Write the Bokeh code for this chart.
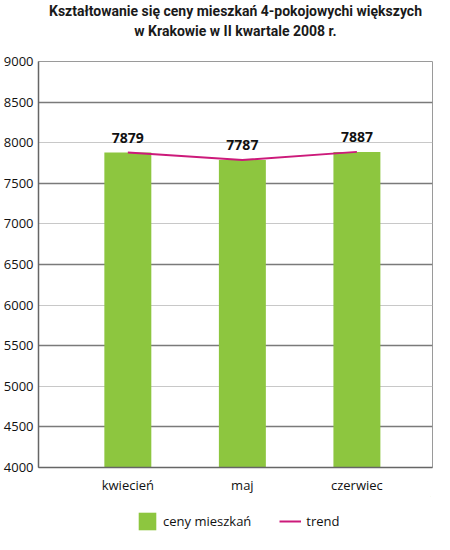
from bokeh.plotting import figure
from bokeh.layouts import column
from bokeh.models import (Range1d, FixedTicker, Grid, Title, Legend, LegendItem, ColumnDataSource)
from bokeh.core.properties import value
from bokeh.embed import file_html
from bokeh.resources import INLINE

months = ["kwiecień", "maj", "czerwiec"]
prices = [7879, 7787, 7887]
trend = [7879, 7787, 7887]
y_ticks = [4000, 4500, 5000, 5500, 6000, 6500, 7000, 7500, 8000, 8500, 9000]
title_lines = ["Kształtowanie się ceny mieszkań 4-pokojowychi większych",
               "w Krakowie w II kwartale 2008 r."]
legend_labels = ["ceny mieszkań", "trend"]

xs = list(range(1, len(months) + 1))
src = ColumnDataSource(dict(x=xs, price=prices, trend=trend,
                            lbl=[str(v) for v in prices]))

FONT = "Open Sans"
TFONT = "Roboto"
GREEN = "#8dc63f"
MAGENTA = "#cc1a7a"

p = figure(frame_width=394, frame_height=406, output_backend="svg", toolbar_location=None,
           title=None, x_range=Range1d(0.22, 3.66), y_range=Range1d(4000, 9000),
           min_border_left=0, min_border_right=2, min_border_top=0, min_border_bottom=0)

p.add_layout(Title(text=" ", text_font_size="17px", standoff=0), "above")
p.add_layout(Title(text=title_lines[1], align="center", text_font=TFONT,
                   text_font_size="14px", text_font_style="bold", text_color="#1a1a1a",
                   standoff=4), "above")
p.add_layout(Title(text=title_lines[0], align="center", text_font=TFONT,
                   text_font_size="14px", text_font_style="bold", text_color="#1a1a1a",
                   standoff=0), "above")

bars = p.vbar(x="x", top="price", bottom=4000, width=0.41, source=src,
              fill_color=GREEN, line_color=None)
tl = p.line(x="x", y="trend", source=src, line_color=MAGENTA, line_width=2)
p.text(x="x", y="price", text="lbl", source=src, text_align="center",
       text_baseline="bottom", y_offset=-10, text_font=value(FONT),
       text_font_style="bold", text_font_size="14px", text_color="#111111")

# grids
p.xgrid.visible = False
p.ygrid.ticker = FixedTicker(ticks=[4000, 5000, 6000, 7000, 8000, 9000])
p.ygrid.grid_line_color = "#c8c8c8"
p.ygrid.grid_line_width = 1
g2 = Grid(dimension=1, ticker=FixedTicker(ticks=[4500, 5500, 6500, 7500, 8500]),
          grid_line_color="#7a7a7a", grid_line_width=1.5)
p.add_layout(g2)

p.yaxis.ticker = FixedTicker(ticks=y_ticks)
p.yaxis.major_tick_out = 0
p.yaxis.major_tick_in = 0
p.yaxis.minor_tick_line_color = None
p.yaxis.axis_line_color = "#666666"
p.yaxis.axis_line_width = 1.5
p.yaxis.major_label_text_font = FONT
p.yaxis.major_label_text_font_size = "13px"
p.yaxis.major_label_text_color = "#111111"
p.yaxis.major_label_standoff = 5

p.xaxis.ticker = FixedTicker(ticks=xs)
p.xaxis.major_label_overrides = {x: m for x, m in zip(xs, months)}
p.xaxis.major_tick_line_color = None
p.xaxis.minor_tick_line_color = None
p.xaxis.axis_line_color = "#666666"
p.xaxis.axis_line_width = 1.5
p.xaxis.major_label_text_font = FONT
p.xaxis.major_label_text_font_size = "13px"
p.xaxis.major_label_text_color = "#111111"
p.xaxis.major_label_standoff = 2

p.outline_line_color = "#9a9a9a"

# legend strip below the chart (its sample glyphs sit outside the visible range)
lf = figure(width=432, height=38, output_backend="svg", toolbar_location=None,
            title=None, min_border=0, x_range=Range1d(0, 1), y_range=Range1d(0, 1))
lf.axis.visible = False
lf.grid.visible = False
lf.outline_line_color = None
lr1 = lf.vbar(x=[5], top=[5], bottom=4, width=0.1, fill_color=GREEN, line_color=None)
lr2 = lf.line(x=[5, 6], y=[5, 5], line_color=MAGENTA, line_width=2)
legend = Legend(items=[LegendItem(label=legend_labels[0], renderers=[lr1]),
                       LegendItem(label=legend_labels[1], renderers=[lr2])],
                orientation="horizontal", location=(98, 2),
                glyph_width=22, glyph_height=22, spacing=28,
                label_text_font=FONT, label_text_font_size="13px",
                label_text_color="#111111", border_line_color=None,
                background_fill_alpha=0, margin=0, padding=2)
lf.add_layout(legend, "center")

layout = column(p, lf, spacing=0)
open("out.html", "w").write(file_html(layout, INLINE))
